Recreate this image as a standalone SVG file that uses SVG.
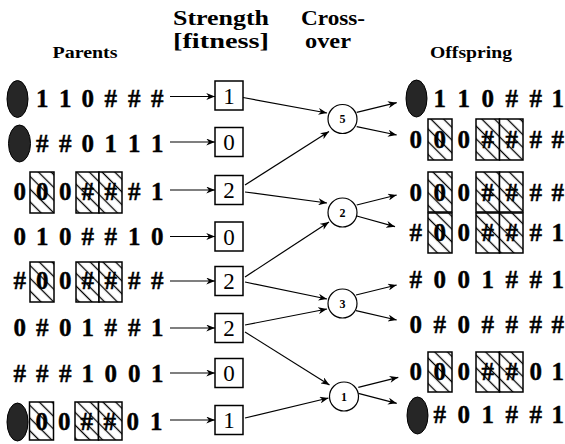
<svg xmlns="http://www.w3.org/2000/svg" width="565" height="444" viewBox="0 0 565 444">
<style>
.h{font-family:"Liberation Serif","Times New Roman",serif;font-weight:bold;font-size:20px;text-anchor:middle;fill:#000}
.h2{font-family:"Liberation Serif","Times New Roman",serif;font-weight:bold;font-size:17px;text-anchor:middle;fill:#000}
.d{font-family:"Liberation Serif","Times New Roman",serif;font-weight:bold;font-size:25px;fill:#000;stroke:#000;stroke-width:0.4}
.s{font-family:"Liberation Serif","Times New Roman",serif;font-size:23px;text-anchor:middle;fill:#000}
.c{font-family:"Liberation Serif","Times New Roman",serif;font-weight:bold;font-size:12px;text-anchor:middle;fill:#000}
.hb{fill:url(#hatch);stroke:#000;stroke-width:1.5}
.ov{fill:#262626;stroke:#000;stroke-width:1}
.sb{fill:#fff;stroke:#000;stroke-width:1.5}
.cc{fill:#fff;stroke:#000;stroke-width:1.2}
.ln{stroke:#000;stroke-width:1.2;fill:none;marker-end:url(#ah)}
</style>
<defs>
<marker id="ah" viewBox="0 0 10 8" refX="10" refY="4" markerWidth="9" markerHeight="7" orient="auto" markerUnits="userSpaceOnUse"><path d="M0,0 L10,4 L0,8 L3,4 z" fill="#000"/></marker>
<pattern id="hatch" patternUnits="userSpaceOnUse" width="9" height="9" patternTransform="rotate(45)"><rect width="9" height="9" fill="#fff"/><line x1="0" y1="4.5" x2="9" y2="4.5" stroke="#000" stroke-width="1.3"/></pattern>
</defs>
<rect width="565" height="444" fill="#fff"/>
<g id="headers">
<text class="h" x="221" y="25" textLength="96" lengthAdjust="spacingAndGlyphs">Strength</text>
<text class="h" x="221" y="48" textLength="96" lengthAdjust="spacingAndGlyphs">[fitness]</text>
<text class="h" x="333" y="25" textLength="64" lengthAdjust="spacingAndGlyphs">Cross-</text>
<text class="h" x="328" y="48" textLength="46" lengthAdjust="spacingAndGlyphs">over</text>
<text class="h2" x="85" y="58" textLength="65" lengthAdjust="spacingAndGlyphs">Parents</text>
<text class="h2" x="471" y="58" textLength="82" lengthAdjust="spacingAndGlyphs">Offspring</text>
</g>
<g id="connectors">
<line class="ln" x1="170" y1="96.5" x2="215" y2="96.5"/>
<line class="ln" x1="170" y1="142" x2="215" y2="142"/>
<line class="ln" x1="170" y1="190" x2="215" y2="190"/>
<line class="ln" x1="170" y1="236.5" x2="215" y2="236.5"/>
<line class="ln" x1="170" y1="281" x2="215" y2="281"/>
<line class="ln" x1="170" y1="328" x2="215" y2="328"/>
<line class="ln" x1="170" y1="373" x2="215" y2="373"/>
<line class="ln" x1="170" y1="420" x2="215" y2="420"/>
<line class="ln" x1="243" y1="97.5" x2="327" y2="113"/>
<line class="ln" x1="245" y1="185" x2="329" y2="131.5"/>
<line class="ln" x1="245" y1="192" x2="327" y2="203"/>
<line class="ln" x1="245" y1="277" x2="329" y2="222"/>
<line class="ln" x1="245" y1="282" x2="327" y2="299"/>
<line class="ln" x1="245" y1="325" x2="327" y2="309"/>
<line class="ln" x1="245" y1="332" x2="329.5" y2="385"/>
<line class="ln" x1="245" y1="418" x2="328.5" y2="398"/>
<line class="ln" x1="356.7" y1="112.3" x2="396.7" y2="102.7"/>
<line class="ln" x1="356.7" y1="126.7" x2="396.7" y2="135"/>
<line class="ln" x1="356.7" y1="205" x2="396.7" y2="195"/>
<line class="ln" x1="356.7" y1="216" x2="395" y2="226.7"/>
<line class="ln" x1="356" y1="295" x2="396.7" y2="285"/>
<line class="ln" x1="356" y1="310.7" x2="396.7" y2="320"/>
<line class="ln" x1="358.3" y1="387.3" x2="398.3" y2="377.3"/>
<line class="ln" x1="358.3" y1="393.3" x2="396.7" y2="403.3"/>
</g>
<g id="parent1"><ellipse class="ov" cx="17.5" cy="99" rx="10.5" ry="18.5"/>
<text class="d" y="107"><tspan x="36">1</tspan> <tspan x="59">1</tspan> <tspan x="81.5">0</tspan> <tspan x="104.5">#</tspan> <tspan x="128">#</tspan> <tspan x="151">#</tspan></text></g>
<g id="parent2"><ellipse class="ov" cx="19.5" cy="143.5" rx="11" ry="18.5"/>
<text class="d" y="152"><tspan x="36">#</tspan> <tspan x="59">#</tspan> <tspan x="81.5">0</tspan> <tspan x="104.5">1</tspan> <tspan x="128">1</tspan> <tspan x="151">1</tspan></text></g>
<g id="parent3"><rect class="hb" x="30" y="172" width="24" height="41"/><rect class="hb" x="76" y="172" width="23" height="41"/><rect class="hb" x="99" y="172" width="23" height="41"/>
<text class="d" y="200"><tspan x="13.5">0</tspan> <tspan x="36">0</tspan> <tspan x="59">0</tspan> <tspan x="81.5">#</tspan> <tspan x="104.5">#</tspan> <tspan x="128">#</tspan> <tspan x="151">1</tspan></text></g>
<g id="parent4"><text class="d" y="245"><tspan x="13.5">0</tspan> <tspan x="36">1</tspan> <tspan x="59">0</tspan> <tspan x="81.5">#</tspan> <tspan x="104.5">#</tspan> <tspan x="128">1</tspan> <tspan x="151">0</tspan></text></g>
<g id="parent5"><rect class="hb" x="30" y="262" width="24" height="40"/><rect class="hb" x="76" y="262" width="23" height="40"/><rect class="hb" x="99" y="262" width="23" height="40"/>
<text class="d" y="289"><tspan x="13.5">#</tspan> <tspan x="36">0</tspan> <tspan x="59">0</tspan> <tspan x="81.5">#</tspan> <tspan x="104.5">#</tspan> <tspan x="128">#</tspan> <tspan x="151">#</tspan></text></g>
<g id="parent6"><text class="d" y="336"><tspan x="13.5">0</tspan> <tspan x="36">#</tspan> <tspan x="59">0</tspan> <tspan x="81.5">1</tspan> <tspan x="104.5">#</tspan> <tspan x="128">#</tspan> <tspan x="151">1</tspan></text></g>
<g id="parent7"><text class="d" y="382"><tspan x="13.5">#</tspan> <tspan x="36">#</tspan> <tspan x="59">#</tspan> <tspan x="81.5">1</tspan> <tspan x="104.5">0</tspan> <tspan x="128">0</tspan> <tspan x="151">1</tspan></text></g>
<g id="parent8"><ellipse class="ov" cx="17.5" cy="422" rx="10.5" ry="19"/><rect class="hb" x="29.5" y="402" width="24" height="38"/><rect class="hb" x="75" y="402" width="23.5" height="38"/><rect class="hb" x="98.5" y="402" width="23.5" height="38"/>
<text class="d" y="430"><tspan x="35.5">0</tspan> <tspan x="58">0</tspan> <tspan x="80.5">#</tspan> <tspan x="103.5">#</tspan> <tspan x="126.5">0</tspan> <tspan x="150">1</tspan></text></g>
<g id="strength1"><rect class="sb" x="215" y="81" width="28" height="29"/><text class="s" x="229" y="103.5">1</text></g>
<g id="strength2"><rect class="sb" x="215" y="127.5" width="28" height="29"/><text class="s" x="229" y="150">0</text></g>
<g id="strength3"><rect class="sb" x="215" y="175.5" width="28" height="29"/><text class="s" x="229" y="198">2</text></g>
<g id="strength4"><rect class="sb" x="215" y="222" width="28" height="29"/><text class="s" x="229" y="244.5">0</text></g>
<g id="strength5"><rect class="sb" x="215" y="266.5" width="28" height="29"/><text class="s" x="229" y="289">2</text></g>
<g id="strength6"><rect class="sb" x="215" y="313.5" width="28" height="29"/><text class="s" x="229" y="336">2</text></g>
<g id="strength7"><rect class="sb" x="215" y="358.5" width="28" height="29"/><text class="s" x="229" y="381">0</text></g>
<g id="strength8"><rect class="sb" x="215" y="405.5" width="28" height="29"/><text class="s" x="229" y="428">1</text></g>
<g id="cross5"><circle class="cc" cx="342.5" cy="119" r="14.5"/><text class="c" x="342.5" y="123">5</text></g>
<g id="cross2"><circle class="cc" cx="342.5" cy="212.5" r="14.5"/><text class="c" x="342.5" y="216.5">2</text></g>
<g id="cross3"><circle class="cc" cx="342.5" cy="303.5" r="14.5"/><text class="c" x="342.5" y="307.5">3</text></g>
<g id="cross1"><circle class="cc" cx="344" cy="396.5" r="14.5"/><text class="c" x="344" y="400.5">1</text></g>
<g id="offspring1"><ellipse class="ov" cx="416.5" cy="98.5" rx="10.5" ry="18.5"/>
<text class="d" y="107"><tspan x="433.5">1</tspan> <tspan x="457.5">1</tspan> <tspan x="481.5">0</tspan> <tspan x="505.5">#</tspan> <tspan x="529.5">#</tspan> <tspan x="551.5">1</tspan></text></g>
<g id="offspring2"><rect class="hb" x="428" y="119" width="24" height="41"/><rect class="hb" x="476" y="119" width="23.5" height="41"/><rect class="hb" x="499.5" y="119" width="23.5" height="41"/>
<text class="d" y="148"><tspan x="409.5">0</tspan> <tspan x="433.5">0</tspan> <tspan x="457.5">0</tspan> <tspan x="481.5">#</tspan> <tspan x="505.5">#</tspan> <tspan x="529.5">#</tspan> <tspan x="551.5">#</tspan></text></g>
<g id="offspring3"><rect class="hb" x="428" y="172" width="24" height="40"/><rect class="hb" x="476" y="172" width="23.5" height="40"/><rect class="hb" x="499.5" y="172" width="23.5" height="40"/>
<text class="d" y="201"><tspan x="409.5">0</tspan> <tspan x="433.5">0</tspan> <tspan x="457.5">0</tspan> <tspan x="481.5">#</tspan> <tspan x="505.5">#</tspan> <tspan x="529.5">#</tspan> <tspan x="551.5">#</tspan></text></g>
<g id="offspring4"><rect class="hb" x="428" y="213" width="24" height="40"/><rect class="hb" x="476" y="213" width="23.5" height="40"/><rect class="hb" x="499.5" y="213" width="23.5" height="40"/>
<text class="d" y="241"><tspan x="409.5">#</tspan> <tspan x="433.5">0</tspan> <tspan x="457.5">0</tspan> <tspan x="481.5">#</tspan> <tspan x="505.5">#</tspan> <tspan x="529.5">#</tspan> <tspan x="551.5">1</tspan></text></g>
<g id="offspring5"><text class="d" y="288"><tspan x="409.5">#</tspan> <tspan x="433.5">0</tspan> <tspan x="457.5">0</tspan> <tspan x="481.5">1</tspan> <tspan x="505.5">#</tspan> <tspan x="529.5">#</tspan> <tspan x="551.5">1</tspan></text></g>
<g id="offspring6"><text class="d" y="333"><tspan x="409.5">0</tspan> <tspan x="433.5">#</tspan> <tspan x="457.5">0</tspan> <tspan x="481.5">#</tspan> <tspan x="505.5">#</tspan> <tspan x="529.5">#</tspan> <tspan x="551.5">#</tspan></text></g>
<g id="offspring7"><rect class="hb" x="428" y="352" width="24" height="40"/><rect class="hb" x="476" y="352" width="23.5" height="40"/><rect class="hb" x="499.5" y="352" width="23.5" height="40"/>
<text class="d" y="380"><tspan x="409.5">0</tspan> <tspan x="433.5">0</tspan> <tspan x="457.5">0</tspan> <tspan x="481.5">#</tspan> <tspan x="505.5">#</tspan> <tspan x="529.5">0</tspan> <tspan x="551.5">1</tspan></text></g>
<g id="offspring8"><ellipse class="ov" cx="417.5" cy="415.5" rx="10.5" ry="18.5"/>
<text class="d" y="423"><tspan x="433.5">#</tspan> <tspan x="457.5">0</tspan> <tspan x="481.5">1</tspan> <tspan x="505.5">#</tspan> <tspan x="529.5">#</tspan> <tspan x="551.5">1</tspan></text></g>
</svg>
